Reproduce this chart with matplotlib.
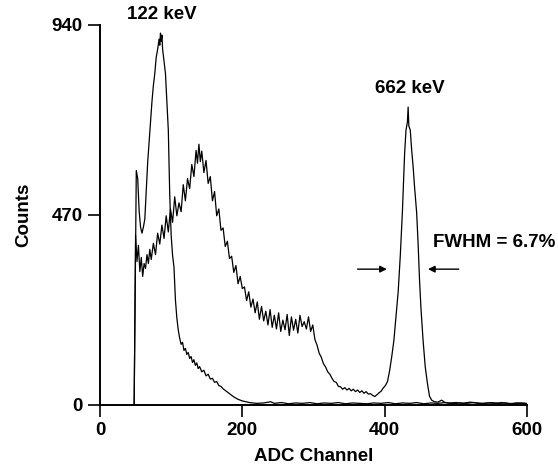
import matplotlib
matplotlib.use("Agg")
from matplotlib import pyplot as plt

# Cs-137 spectrum (wide curve with 662 keV photopeak)
cs_ch = [48, 50, 52, 54, 56, 58, 60, 62, 64, 66, 68, 70, 72, 75, 78, 81, 84, 87, 90, 93,
         96, 99, 102, 105, 108, 111, 114, 117, 120, 123, 126, 129, 132, 135, 137, 139, 141, 143, 146, 149,
         152, 155, 158, 161, 164, 167, 170, 173, 176, 179, 182, 185, 188, 191, 194, 197, 200, 203, 206, 209,
         212, 215, 218, 221, 224, 227, 230, 233, 236, 239, 242, 245, 248, 251, 254, 257, 260, 263, 266, 269,
         272, 275, 278, 281, 284, 287, 290, 293, 296, 299, 302, 305, 308, 311, 314, 317, 320, 323, 326, 329,
         332, 335, 338, 341, 344, 347, 350, 353, 356, 359, 362, 365, 368, 371, 374, 377, 380, 383, 386, 389,
         392, 395, 398, 401, 404, 407, 410, 413, 416, 419, 422, 425, 428, 430, 432, 433, 434, 436, 438, 440,
         442, 445, 447, 449, 451, 454, 457, 460, 463, 466, 470, 475, 480, 485, 490, 500, 510, 520, 530, 540,
         550, 560, 570, 580, 590, 600]
cs_counts = [0, 420, 355, 395, 330, 365, 318, 350, 338, 372, 350, 385, 360, 400, 372, 425, 398, 445, 412, 468,
             428, 485, 452, 515, 468, 500, 478, 545, 505, 560, 535, 595, 565, 630, 598, 645, 602, 628, 575, 605,
             548, 565, 505, 528, 468, 485, 432, 438, 392, 405, 362, 368, 328, 345, 300, 318, 288, 292, 258, 280,
             242, 262, 228, 255, 212, 244, 208, 232, 198, 236, 192, 222, 188, 228, 182, 210, 186, 224, 172, 218,
             185, 212, 178, 222, 194, 206, 188, 218, 182, 198, 162, 148, 128, 118, 102, 94, 82, 76, 66, 58,
             56, 46, 45, 39, 43, 37, 41, 35, 39, 33, 37, 31, 35, 29, 33, 27, 28, 24, 21, 25,
             30, 34, 42, 48, 58, 85, 120, 160, 220, 280, 370, 480, 620, 680, 700, 737, 690, 680, 630, 590,
             540, 475, 400, 310, 240, 160, 95, 55, 22, 12, 8, 7, 12, 6, 5, 6, 4, 7, 5, 4,
             6, 4, 5, 3, 5, 4]

# Co-57 spectrum (narrow curve with 122 keV peak)
co_ch = [48, 51, 53, 55, 57, 59, 61, 63, 65, 67, 69, 71, 73, 75, 77, 79, 81, 83, 84, 85,
         86, 87, 88, 90, 92, 94, 96, 98, 100, 102, 104, 106, 108, 110, 112, 114, 116, 118, 120, 122,
         124, 126, 128, 130, 132, 134, 136, 138, 140, 143, 146, 149, 152, 155, 158, 161, 164, 167, 170, 173,
         176, 179, 182, 185, 188, 191, 194, 197, 200, 205, 210, 215, 220, 230, 240, 245, 255, 265, 275, 285,
         295, 305, 315, 325, 335, 345, 355, 365, 375, 385, 395, 405, 415, 425, 435, 445, 455, 465, 475, 485,
         495, 505, 515, 525, 535, 545, 555, 565, 575, 585, 595, 600]
co_counts = [0, 580, 560, 480, 440, 425, 440, 460, 530, 600, 650, 700, 750, 790, 820, 860, 880, 905, 890, 920,
             900, 915, 880, 850, 820, 750, 680, 520, 420, 370, 340, 260, 215, 185, 165, 150, 155, 135, 140, 125,
             130, 115, 120, 105, 112, 98, 104, 90, 95, 82, 86, 72, 76, 64, 66, 56, 58, 48, 46, 40,
             36, 32, 28, 24, 20, 17, 14, 12, 10, 8, 6, 5, 4, 5, 8, 4, 6, 3, 5, 4,
             6, 3, 5, 4, 6, 3, 5, 4, 3, 5, 4, 6, 3, 5, 4, 6, 3, 5, 4, 6,
             3, 5, 4, 6, 3, 5, 4, 6, 3, 5, 4, 3]

x_ticks = [0, 200, 400, 600]
y_ticks = [0, 470, 940]

plt.rcParams['font.family'] = ['Liberation Sans', 'DejaVu Sans']
plt.rcParams['font.weight'] = 'bold'

fig = plt.figure(figsize=(5.58, 4.76), dpi=100)
ax = fig.add_axes([0.1792, 0.1492, 0.7652, 0.7983])

ax.plot(co_ch, co_counts, color='black', linewidth=0.9)
ax.plot(cs_ch, cs_counts, color='black', linewidth=0.9)

ax.set_xlim(0, 600)
ax.set_ylim(0, 940)
ax.set_xticks(x_ticks)
ax.set_yticks(y_ticks)
ax.spines['top'].set_visible(False)
ax.spines['right'].set_visible(False)
ax.spines['left'].set_linewidth(1.4)
ax.spines['bottom'].set_linewidth(1.4)
ax.tick_params(direction='out', length=8.5, width=1.2, labelsize=13.5, pad=4)
for lab in ax.get_xticklabels() + ax.get_yticklabels():
    lab.set_fontweight('bold')

ax.set_xlabel('ADC Channel', fontsize=13.5, fontweight='bold', labelpad=6)
ax.set_ylabel('Counts', fontsize=13.5, fontweight='bold', labelpad=14)

ax.text(87, 965, '122 keV', ha='center', va='center', fontsize=13.5, fontweight='bold', clip_on=False)
ax.text(436, 784, '662 keV', ha='center', va='center', fontsize=13.5, fontweight='bold')
ax.text(468, 403, 'FWHM = 6.7%', ha='left', va='center', fontsize=13.5, fontweight='bold')

arrow = dict(arrowstyle='-|>', color='black', lw=1.0, mutation_scale=10)
ax.annotate('', xy=(407, 336), xytext=(358, 336), arrowprops=arrow)
ax.annotate('', xy=(457, 336), xytext=(508, 336), arrowprops=arrow)

plt.savefig('out.png', dpi=100)
